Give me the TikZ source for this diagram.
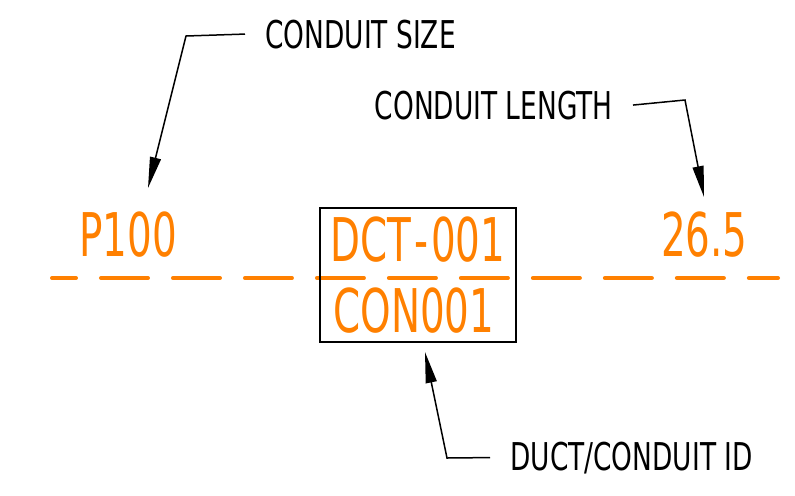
\documentclass[tikz,border=0pt]{standalone}
\usepackage{fontspec}
\usetikzlibrary{arrows.meta}
\newfontfamily\cadlegende{DejaVu Sans}[FakeStretch=0.69]
\newfontfamily\cadvaleur{DejaVu Sans}[FakeStretch=0.645]
\definecolor{orangeplan}{RGB}{255,128,0}
\begin{document}
\begin{tikzpicture}[x=0.02cm, y=-0.02cm]
\tikzset{legende/.style={inner xsep=0.4cm, inner ysep=0cm, font=\cadlegende\fontsize{21.8}{26}\selectfont}}
\tikzset{valeur/.style={inner sep=0cm, text=orangeplan, font=\cadvaleur\fontsize{34.3}{40}\selectfont}}
\tikzset{fleche/.style={line width=0.03cm, -{Triangle[length=0.62cm, width=0.22cm]}}}
\tikzset{gaine/.style={orangeplan, line width=0.08cm, line cap=round, dash pattern=on 0.94cm off 0.5cm, dash phase=0.46cm}}
\useasboundingbox (0,0) rectangle (795,495);
\draw[gaine] (52,278) -- (778,278);
\node[draw, line width=0.03cm, minimum width=3.92cm, minimum height=2.68cm] (cadre) at (418,275) {};
\node[valeur, anchor=base west] (taille) at (79,256) {P100};
\node[valeur, anchor=base east] (longueur) at (748,256) {26.5};
\node[valeur, anchor=base west] (gaineid) at (330,261) {DCT{\kern0.06cm}-{\kern0.06cm}001};
\node[valeur, anchor=base west] (conduitid) at (333,332) {CON001};
\node[legende, anchor=base west] (legtaille) at (245,48) {CONDUIT SIZE};
\node[legende, anchor=base east] (leglongueur) at (633,119) {CONDUIT LENGTH};
\node[legende, anchor=base west] (legid) at (490,470) {DUCT/CONDUIT ID};
\coordinate (coude1) at (186,36);
\coordinate (pointe1) at (148,188);
\coordinate (coude2) at (685,100);
\coordinate (pointe2) at (704,197);
\coordinate (coude3) at (447,458);
\coordinate (pointe3) at (425,352);
\draw[fleche] (legtaille.west) -- (coude1) -- (pointe1);
\draw[fleche] (leglongueur.east) -- (coude2) -- (pointe2);
\draw[fleche] (legid.west) -- (coude3) -- (pointe3);
\end{tikzpicture}
\end{document}
